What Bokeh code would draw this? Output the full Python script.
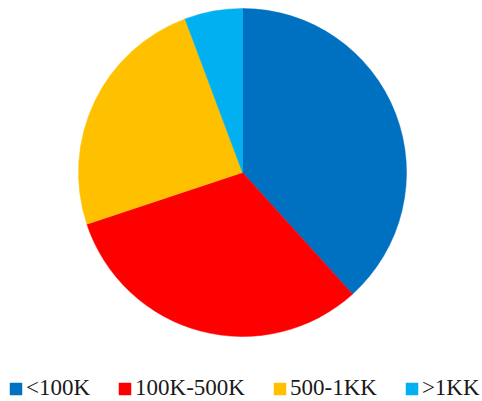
import math
from bokeh.plotting import figure
from bokeh.models import ColumnDataSource, Legend, LegendItem, Range1d
from bokeh.embed import file_html
from bokeh.resources import INLINE

categories = ["<100K", "100K-500K", "500-1KK", ">1KK"]
values = [38.3, 31.6, 24.4, 5.7]
colors = ["#0070C0", "#FF0000", "#FFC000", "#00B0F0"]

W, H = 482, 401
CX, CY, R = 242, H - 172, 164

total = sum(values)
starts, ends = [], []
cum = 0.0
for v in values:
    a0 = cum / total
    cum += v
    a1 = cum / total
    # clockwise from 12 o'clock
    starts.append(math.pi / 2 - 2 * math.pi * a1)
    ends.append(math.pi / 2 - 2 * math.pi * a0)

src = ColumnDataSource(dict(cat=categories, val=values, color=colors,
                            start=starts, end=ends))

p = figure(width=W, height=H, output_backend="svg", toolbar_location=None,
           x_range=Range1d(0, W), y_range=Range1d(0, H), min_border=0,
           outline_line_color=None)
p.axis.visible = False
p.grid.visible = False

renderers = []
for i in range(len(categories)):
    r = p.wedge(x=CX, y=CY, radius=R, start_angle=starts[i], end_angle=ends[i],
                fill_color=colors[i], line_color=colors[i], line_width=0.5)
    renderers.append(r)

legend = Legend(items=[LegendItem(label=c, renderers=[r]) for c, r in zip(categories, renderers)],
                orientation="horizontal", location=(8, 0),
                glyph_width=15, glyph_height=15, label_standoff=3, spacing=27,
                padding=0, margin=0, border_line_color=None,
                background_fill_alpha=0,
                label_text_font="Liberation Serif",
                label_text_font_size="23px",
                label_text_color="#1a1a1a", label_height=12)
p.add_layout(legend, "center")

open("out.html", "w").write(file_html(p, INLINE))
